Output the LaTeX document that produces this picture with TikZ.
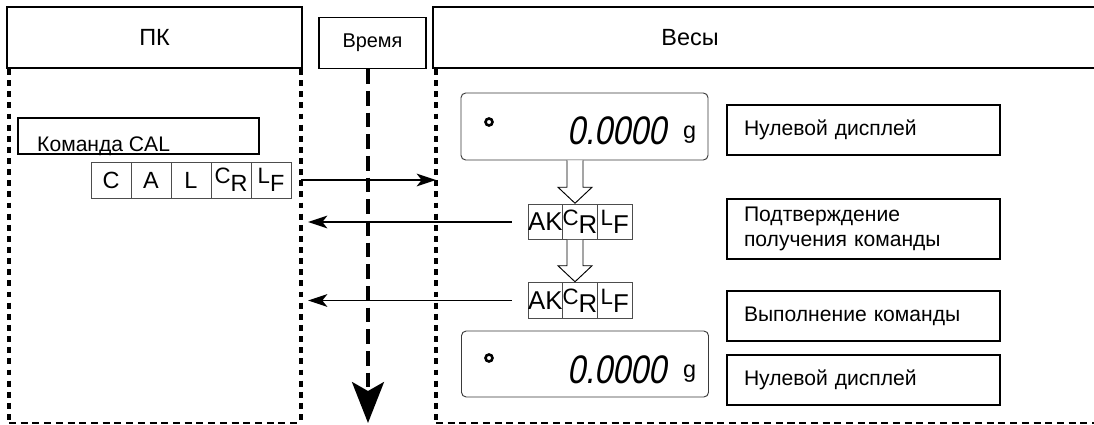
\documentclass[tikz,border=0pt]{standalone}
\usepackage{fontspec}
\setmainfont{Liberation Sans}
\newfontfamily\segfont[FakeSlant=0.18,FakeStretch=0.82]{Liberation Sans}
\usetikzlibrary{arrows.meta,positioning,calc}
\definecolor{ink}{HTML}{000000}
\definecolor{cellline}{HTML}{4D4D4D}
\definecolor{bezel}{HTML}{3A3A3A}
\newcommand\pxu{0.03cm}
\newcommand\ctrlpair[3]{{\fontsize{#3}{#3}\selectfont\raisebox{0.22em}{#1}}\raisebox{-0.12em}{#2}}
\newcommand\hollowdown[2]{%
  \draw[hollow] ($(#1 -| #2)+(-8,0)$) -- ($(#2)+(-8,-16)$) -- ($(#2)+(-17,-16)$) -- (#2)
    -- ($(#2)+(17,-16)$) -- ($(#2)+(8,-16)$) -- ($(#1 -| #2)+(8,0)$);}
\tikzset{
  head/.style={draw=ink,line width=1.3pt,inner sep=0pt,font=\fontsize{20}{24}\selectfont},
  lbox/.style={draw=ink,line width=1.3pt,minimum width=273*\pxu,minimum height=50*\pxu,inner xsep=17*\pxu,inner ysep=0pt,text width=239*\pxu,align=left,font=\fontsize{18}{21.5}\selectfont},
  cell/.style={draw=cellline,line width=0.7pt,outer sep=0pt,inner sep=0pt,minimum width=40*\pxu,minimum height=36*\pxu,font=\fontsize{20}{20}\selectfont},
  akcell/.style={cell,minimum width=34.7*\pxu,minimum height=35.5*\pxu,font=\fontsize{22}{22}\selectfont},
  panel/.style={draw=bezel,line width=0.8pt,rounded corners=4pt,inner sep=0pt,minimum width=247*\pxu,minimum height=67*\pxu},
  lamp/.style={circle,draw=ink,line width=2.2pt,inner sep=0pt,minimum size=7*\pxu},
  digits/.style={anchor=base west,inner sep=0pt,font=\segfont\fontsize{34}{34}\selectfont},
  unit/.style={anchor=base west,inner sep=0pt,font=\fontsize{20}{20}\selectfont},
  life/.style={line width=2.6pt,dash pattern=on 5pt off 4.5pt},
  timeline/.style={line width=2.8pt,dash pattern=on 12.5pt off 6pt,-{Stealth[length=1.23cm,width=0.96cm,inset=0.27cm]}},
  edge/.style={line width=1pt,dash pattern=on 6pt off 4pt},
  msg/.style={line width=1.3pt,-{Stealth[length=0.58cm,width=0.38cm,inset=0.15cm]}},
  hollow/.style={draw=ink,line width=0.8pt,fill=white},
}
\begin{document}
\begin{tikzpicture}[x=0.03cm,y=-0.03cm]
  \useasboundingbox (0,0) rectangle (1094,425);
  \clip (0,0) rectangle (1094,425);

  \node[head,minimum width=295*\pxu,minimum height=61*\pxu] (pk) at (154.5,37.5) {ПК};
  \node[head,minimum width=107*\pxu,minimum height=51*\pxu,font=\fontsize{17}{20}\selectfont] (time) at (372.5,43) {Время};
  \node[head,minimum width=667*\pxu,minimum height=61*\pxu] (scale) at (766.5,37.5) {};
  \node[inner sep=0pt,font=\fontsize{20}{24}\selectfont] (scaletxt) at (690,37.5) {Весы};

  \coordinate (pcA) at (9,69);
  \coordinate (pcB) at (301,69);
  \coordinate (wgA) at (436,69);
  \coordinate (floor) at (9,423);
  \coordinate (floorR) at (1094,423);
  \coordinate (tend) at (368,423);

  \draw[life] (pcA) -- (pcA |- floor);
  \draw[life] (pcB) -- (pcB |- floor);
  \draw[life] (wgA) -- (wgA |- floor);
  \draw[edge] (floor) -- (pcB |- floor);
  \draw[edge] (wgA |- floor) -- (floorR);
  \draw[timeline] (time.south -| tend) -- (tend);

  \node[draw=ink,line width=1.3pt,minimum width=241*\pxu,minimum height=36*\pxu,inner sep=0pt] (cmd) at (138.5,136) {};
  \node[anchor=base west,inner sep=0pt,font=\fontsize{18}{21}\selectfont] (cmdtxt) at (37,152) {Команда CAL};

  \node[cell] (c1) at (111,180) {C};
  \node[cell,right=0pt of c1] (c2) {A};
  \node[cell,right=0pt of c2] (c3) {L};
  \node[cell,right=0pt of c3] (c4) {\ctrlpair{C}{R}{19}};
  \node[cell,right=0pt of c4] (c5) {\ctrlpair{L}{F}{19}};

  \node[panel] (disp1) at (584.5,126.5) {};
  \node[lamp] (lamp1) at (489,122) {};
  \node[digits] (val1) at (567,145) {0.0000};
  \node[unit] (g1) at (683,139) {g};

  \node[akcell] (ak1) at (545.3,222) {AK};
  \node[akcell,right=0pt of ak1] (ak1c) {\ctrlpair{C}{R}{19}};
  \node[akcell,right=0pt of ak1c] (ak1l) {\ctrlpair{L}{F}{19}};

  \node[akcell] (ak2) at (545.3,300.5) {AK};
  \node[akcell,right=0pt of ak2] (ak2c) {\ctrlpair{C}{R}{19}};
  \node[akcell,right=0pt of ak2c] (ak2l) {\ctrlpair{L}{F}{19}};

  \node[panel,minimum height=66*\pxu] (disp2) at (585,364) {};
  \node[lamp] (lamp2) at (489,358) {};
  \node[digits] (val2) at (567,383) {0.0000};
  \node[unit] (g2) at (683,377) {g};

  \coordinate (tip1) at ($(ak1c.north)+(-5,-1)$);
  \coordinate (tip2) at ($(ak2c.north)+(-5,-1)$);
  \hollowdown{disp1.south}{tip1}
  \hollowdown{ak1c.south}{tip2}

  \draw[msg] (pcB |- c5.east) -- (wgA |- c5.east);
  \draw[msg] ($(ak1.west)+(-16,0)$) -- ($(pcB |- ak1.west)+(7,0)$);
  \draw[msg] ($(ak2.west)+(-16,0)$) -- ($(pcB |- ak2.west)+(7,0)$);

  \node[lbox] (zero1) at (863.5,130) {Нулевой дисплей};
  \node[lbox,minimum height=60*\pxu] (ack) at (863.5,229) {Подтверждение\\получения команды};
  \node[lbox] (exec) at (863.5,316) {Выполнение команды};
  \node[lbox] (zero2) at (863.5,380) {Нулевой дисплей};
\end{tikzpicture}
\end{document}
